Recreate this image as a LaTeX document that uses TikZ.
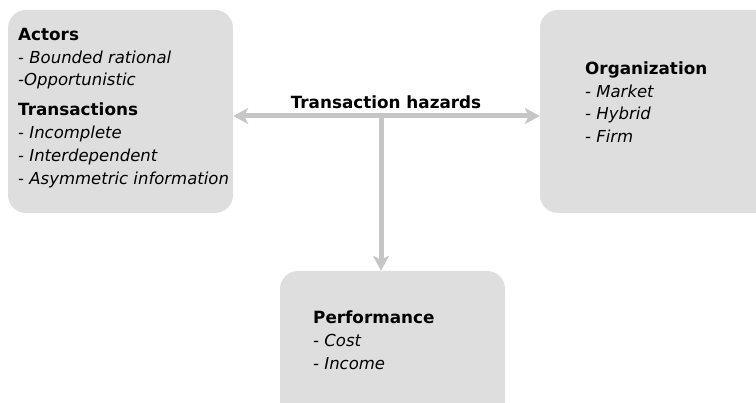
\documentclass[tikz,border=0pt]{standalone}
\usepackage{fontspec}
\setmainfont{DejaVu Sans}
\usetikzlibrary{arrows.meta}
\definecolor{boxgray}{HTML}{DEDEDE}
\definecolor{arrgray}{HTML}{C6C6C6}
\tikzset{
  panel/.style={fill=boxgray, draw=none, rounded corners=18pt, inner sep=0pt},
  head/.style={anchor=base west, inner sep=0pt, font=\fontsize{16.8}{19}\selectfont\bfseries},
  item/.style={anchor=base west, inner sep=0pt, font=\fontsize{16.5}{19}\selectfont\itshape},
  arr/.style={draw=arrgray, line width=5pt, -{Stealth[length=15pt,width=16pt,inset=4pt]}},
}
\begin{document}
\begin{tikzpicture}[x=1pt,y=-1pt]
\useasboundingbox (0,0) rectangle (756,403);
\begin{scope}
\clip (0,0) rectangle (756,403);
\node[panel, minimum width=225pt, minimum height=203pt] (lb) at (120.5,111.5) {};
\node[panel, minimum width=240pt, minimum height=203pt] (rb) at (660,111.5) {};
\node[panel, minimum width=225pt, minimum height=160pt] (bb) at (392.5,351) {};
\end{scope}
\node[head] (a1) at (18,40.5) {Actors};
\node[item] (a2) at (18,64) {- Bounded rational};
\node[item] (a3) at (18,86) {-Opportunistic};
\node[head] (a4) at (18,116) {Transactions};
\node[item] (a5) at (18,139) {- Incomplete};
\node[item] (a6) at (18,162) {- Interdependent};
\node[item] (a7) at (18,185) {- Asymmetric information};
\node[head] (o1) at (585,75) {Organization};
\node[item] (o2) at (585,97.5) {- Market};
\node[item] (o3) at (585,120) {- Hybrid};
\node[item] (o4) at (585,142.5) {- Firm};
\node[head] (p1) at (313,324) {Performance};
\node[item] (p2) at (313,347) {- Cost};
\node[item] (p3) at (313,370) {- Income};
\node[head, anchor=base] (th) at (386,109) {Transaction hazards};
\coordinate (hub) at (381,116);
\draw[arr] (hub) -- (hub -| lb.east);
\draw[arr] (hub) -- (hub -| rb.west);
\draw[arr] (hub) -- (hub |- bb.north);
\end{tikzpicture}
\end{document}
